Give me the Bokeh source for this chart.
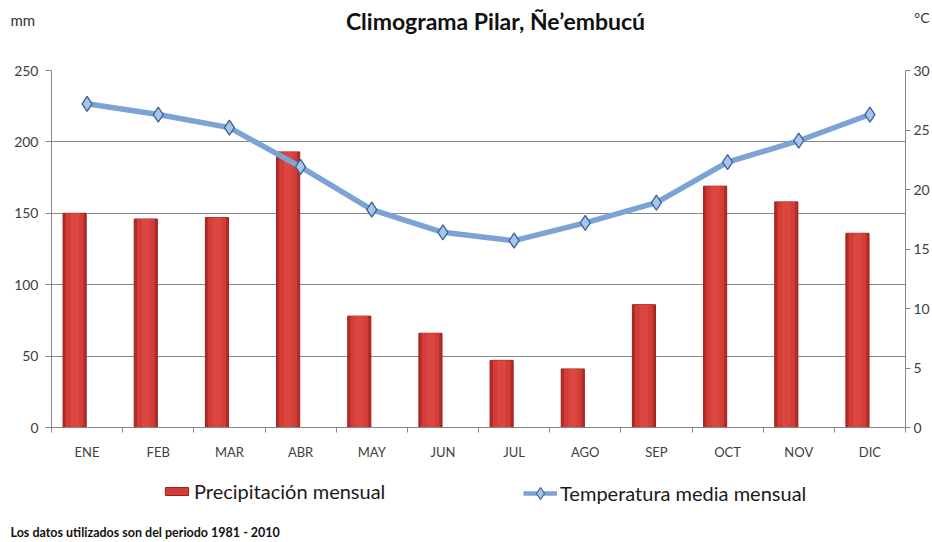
from bokeh.plotting import figure
from bokeh.layouts import column
from bokeh.models import (Range1d, LinearAxis, FixedTicker, Label, Legend,
                          LegendItem, ColumnDataSource)
from bokeh.embed import file_html
from bokeh.resources import INLINE

# ---- data ----
months = ["ENE", "FEB", "MAR", "ABR", "MAY", "JUN", "JUL", "AGO", "SEP", "OCT", "NOV", "DIC"]
precip_mm = [150, 146, 147, 193, 78, 66, 47, 41, 86, 169, 158, 136]
temp_c = [27.2, 26.3, 25.2, 21.9, 18.3, 16.4, 15.7, 17.2, 18.9, 22.3, 24.1, 26.3]
mm_ticks = [0, 50, 100, 150, 200, 250]
c_ticks = [0, 5, 10, 15, 20, 25, 30]

title_text = "Climograma Pilar, Ñe’embucú"
note_text = "Los datos utilizados son del periodo 1981 - 2010"
legend_labels = ["Precipitación mensual", "Temperatura media mensual"]

FONT = "Lato"
W = 932
BAR_OUT, BAR_MID, BAR_IN, BAR_EDGE = "#B42A26", "#D33D37", "#DC4640", "#9A2220"
LINE_C, MK_FILL, MK_EDGE = "#7BA3D6", "#A4C6EC", "#3E6290"


def blank(height):
    f = figure(width=W, height=height, output_backend="svg", toolbar_location=None,
               x_range=Range1d(0, 1), y_range=Range1d(0, 1), title=None,
               x_axis_location=None, y_axis_location=None, min_border=0,
               frame_align=False)
    f.grid.visible = False
    f.outline_line_color = None
    return f


# ---- header ----
head = blank(62)
head.add_layout(Label(x=495, y=42, x_units="screen", y_units="screen", text=title_text,
                      text_font=FONT, text_font_style="bold", text_font_size="23px",
                      text_align="center", text_baseline="middle", text_color="#111111"))
head.add_layout(Label(x=10, y=43, x_units="screen", y_units="screen", text="mm",
                      text_font=FONT, text_font_size="15px", text_align="left",
                      text_baseline="middle", text_color="#333333"))
head.add_layout(Label(x=929, y=45, x_units="screen", y_units="screen", text="°C",
                      text_font=FONT, text_font_size="14px", text_align="right",
                      text_baseline="middle", text_color="#333333"))

# ---- main chart ----
slot = list(range(len(months)))
x_center = [i + 0.5 for i in slot]
x_bar = [i + 0.325 for i in slot]
src = ColumnDataSource(dict(xc=x_center, xb=x_bar, mm=precip_mm, t=temp_c))

p = figure(width=W, height=400, output_backend="svg", toolbar_location=None,
           x_range=Range1d(0, 12), y_range=Range1d(0, 250), title=None,
           min_border_left=51, min_border_top=8, min_border_bottom=30,
           min_border_right=10, frame_align=False)
p.extra_y_ranges = {"temp": Range1d(0, 30)}
p.outline_line_color = None

p.vbar(x="xb", top="mm", width=0.325, bottom=0, source=src,
       fill_color=BAR_OUT, line_color=BAR_EDGE, line_width=1)
p.vbar(x="xb", top="mm", width=0.25, bottom=0, source=src,
       fill_color=BAR_MID, line_color=None)
p.vbar(x="xb", top="mm", width=0.12, bottom=0, source=src,
       fill_color=BAR_IN, line_color=None)

p.line(x="xc", y="t", source=src, y_range_name="temp",
       line_color=LINE_C, line_width=5.5)
p.scatter(x="xc", y="t", source=src, y_range_name="temp", marker="diamond",
          size=15, fill_color=MK_FILL, line_color=MK_EDGE, line_width=1.3)

gray = "#868686"
lab = "#404040"
xa = p.xaxis[0]
xa.ticker = FixedTicker(ticks=x_center, minor_ticks=list(range(13)))
xa.major_label_overrides = {xc: m for xc, m in zip(x_center, months)}
xa.major_tick_out = 0
xa.major_tick_in = 0
xa.minor_tick_out = 5
xa.minor_tick_in = 0
xa.minor_tick_line_color = gray
xa.axis_line_color = gray
xa.major_label_standoff = 11
xa.major_label_text_font = FONT
xa.major_label_text_font_size = "13px"
xa.major_label_text_color = lab

ya = p.yaxis[0]
ya.ticker = FixedTicker(ticks=mm_ticks)
ya.major_tick_out = 6
ya.major_tick_in = 0
ya.minor_tick_line_color = None
ya.axis_line_color = gray
ya.major_tick_line_color = gray
ya.major_label_standoff = 7
ya.major_label_text_font = FONT
ya.major_label_text_font_size = "14px"
ya.major_label_text_color = lab

ra = LinearAxis(y_range_name="temp", ticker=FixedTicker(ticks=c_ticks))
ra.major_tick_out = 5
ra.major_tick_in = 0
ra.minor_tick_line_color = None
ra.axis_line_color = gray
ra.major_tick_line_color = gray
ra.major_label_standoff = 3
ra.major_label_text_font = FONT
ra.major_label_text_font_size = "14px"
ra.major_label_text_color = lab
p.add_layout(ra, "right")

p.xgrid.grid_line_color = None
p.ygrid.grid_line_color = "#8A8A8A"

# ---- footer: legend + note ----
foot = blank(80)
lb = foot.vbar(x="xb", top="mm", width=0.1, source=src, fill_color=BAR_MID,
               line_color=BAR_EDGE, visible=False)
ll = foot.line(x="xc", y="t", source=src, line_color=LINE_C, line_width=4.5, visible=False)
ls = foot.scatter(x="xc", y="t", source=src, marker="diamond", fill_color=MK_FILL,
                  line_color=MK_EDGE, line_width=1.2, visible=False)
common = dict(orientation="horizontal", padding=0, margin=0, border_line_color=None,
              background_fill_alpha=0, label_standoff=3, label_text_font=FONT,
              label_text_font_size="20px", label_text_color="#1A1A1A")
foot.add_layout(Legend(items=[LegendItem(label=legend_labels[0], renderers=[lb])],
                       location=(162, 39), glyph_width=29, glyph_height=10,
                       label_height=20, **common), "center")
foot.add_layout(Legend(items=[LegendItem(label=legend_labels[1], renderers=[ll, ls])],
                       location=(523, 34), glyph_width=34, glyph_height=30,
                       label_height=30, **common), "center")
foot.add_layout(Label(x=10, y=10, x_units="screen", y_units="screen", text=note_text,
                      text_font=FONT, text_font_style="bold", text_font_size="12.5px",
                      text_align="left", text_baseline="middle", text_color="#111111"))

layout = column(head, p, foot, spacing=0)
open("out.html", "w").write(file_html(layout, INLINE))
